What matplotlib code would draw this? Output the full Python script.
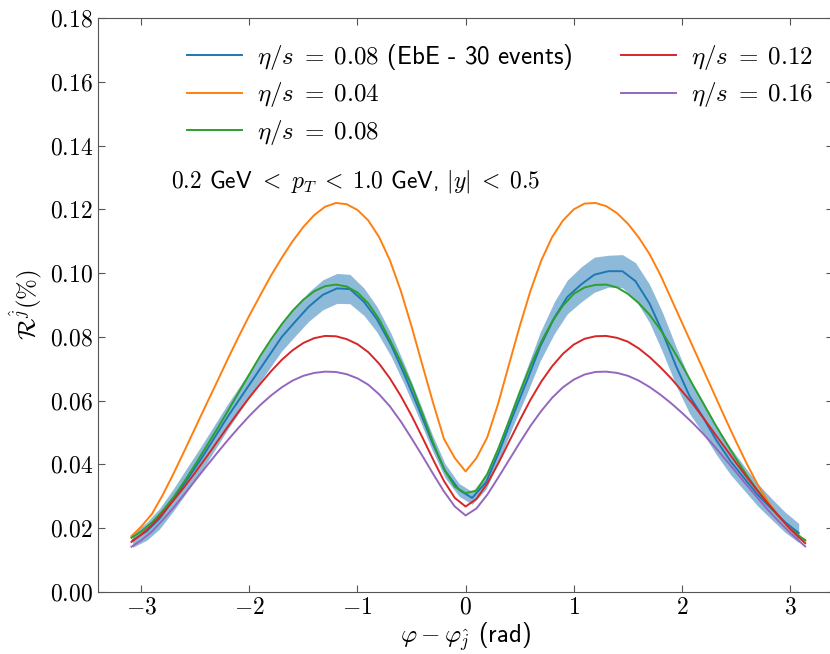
import numpy as np
import matplotlib
matplotlib.use("Agg")
from matplotlib import pyplot as plt

plt.rcParams['mathtext.fontset'] = 'cm'
plt.rcParams['font.family'] = ['cmss10', 'DejaVu Sans']

# azimuthal angle relative to the jet axis (rad)
phi = [-3.09] + list(np.round(np.arange(-3.0, 3.15, 0.1), 2)) + [3.14]

# smooth initial conditions, one curve per eta/s
r_004 = [0.0175, 0.0205, 0.0245, 0.0305, 0.0372, 0.0443, 0.0515, 0.0587,
         0.0658, 0.0730, 0.0800, 0.0867, 0.0930, 0.0992, 0.1048, 0.1100,
         0.1145, 0.1182, 0.1208, 0.1220, 0.1216, 0.1198, 0.1165, 0.1113,
         0.1040, 0.0945, 0.0833, 0.0712, 0.0592, 0.0480, 0.0420, 0.0378,
         0.0420, 0.0485, 0.0590, 0.0712, 0.0833, 0.0945, 0.1040, 0.1113,
         0.1165, 0.1200, 0.1218, 0.1220, 0.1210, 0.1188, 0.1155, 0.1112,
         0.1060, 0.0995, 0.0920, 0.0845, 0.0770, 0.0695, 0.0620, 0.0545,
         0.0472, 0.0402, 0.0337, 0.0281, 0.0235, 0.0198, 0.0170, 0.0160]
r_008 = [0.0170, 0.0190, 0.0218, 0.0255, 0.0298, 0.0347, 0.0400, 0.0455,
         0.0510, 0.0567, 0.0625, 0.0683, 0.0740, 0.0792, 0.0840, 0.0882,
         0.0917, 0.0943, 0.0959, 0.0964, 0.0958, 0.0939, 0.0905, 0.0855,
         0.0790, 0.0722, 0.0648, 0.0560, 0.0468, 0.0385, 0.0330, 0.0310,
         0.0318, 0.0370, 0.0448, 0.0535, 0.0625, 0.0710, 0.0785, 0.0848,
         0.0898, 0.0935, 0.0955, 0.0963, 0.0964, 0.0955, 0.0935, 0.0906,
         0.0870, 0.0823, 0.0770, 0.0712, 0.0650, 0.0590, 0.0530, 0.0473,
         0.0418, 0.0366, 0.0318, 0.0275, 0.0235, 0.0200, 0.0172, 0.0163]
r_012 = [0.0157, 0.0180, 0.0210, 0.0247, 0.0288, 0.0330, 0.0375, 0.0422,
         0.0470, 0.0518, 0.0565, 0.0610, 0.0652, 0.0692, 0.0728, 0.0758,
         0.0781, 0.0796, 0.0803, 0.0802, 0.0793, 0.0777, 0.0752, 0.0716,
         0.0670, 0.0615, 0.0553, 0.0485, 0.0415, 0.0348, 0.0295, 0.0268,
         0.0292, 0.0340, 0.0402, 0.0470, 0.0538, 0.0603, 0.0660, 0.0708,
         0.0747, 0.0776, 0.0794, 0.0802, 0.0803, 0.0797, 0.0785, 0.0764,
         0.0737, 0.0705, 0.0670, 0.0630, 0.0590, 0.0545, 0.0498, 0.0452,
         0.0405, 0.0360, 0.0317, 0.0275, 0.0237, 0.0198, 0.0165, 0.0153]
r_016 = [0.0142, 0.0162, 0.0190, 0.0226, 0.0265, 0.0307, 0.0350, 0.0393,
         0.0435, 0.0476, 0.0515, 0.0552, 0.0586, 0.0616, 0.0642, 0.0663,
         0.0678, 0.0687, 0.0691, 0.0690, 0.0683, 0.0670, 0.0650, 0.0620,
         0.0582, 0.0535, 0.0482, 0.0427, 0.0370, 0.0315, 0.0268, 0.0240,
         0.0262, 0.0305, 0.0358, 0.0413, 0.0468, 0.0521, 0.0568, 0.0609,
         0.0642, 0.0666, 0.0682, 0.0690, 0.0691, 0.0687, 0.0678, 0.0663,
         0.0643, 0.0619, 0.0592, 0.0562, 0.0530, 0.0495, 0.0457, 0.0417,
         0.0376, 0.0335, 0.0295, 0.0256, 0.0220, 0.0186, 0.0155, 0.0143]

# event-by-event average over 30 events, 50 angular bins, with its spread
phi_ebe = [-3.08, -2.95, -2.83, -2.70, -2.58, -2.45, -2.32, -2.20, -2.07,
           -1.95, -1.82, -1.70, -1.57, -1.45, -1.32, -1.19, -1.07, -0.94,
           -0.82, -0.69, -0.57, -0.44, -0.31, -0.19, -0.06, 0.06, 0.19, 0.31,
           0.44, 0.57, 0.69, 0.82, 0.94, 1.07, 1.19, 1.32, 1.45, 1.57, 1.70,
           1.82, 1.95, 2.07, 2.20, 2.32, 2.45, 2.58, 2.70, 2.83, 2.95, 3.08]
r_ebe = [0.0162, 0.0190, 0.0230, 0.0290, 0.0350, 0.0415, 0.0485, 0.0550,
         0.0615, 0.0675, 0.0740, 0.0800, 0.0850, 0.0895, 0.0932, 0.0952,
         0.0950, 0.0910, 0.0855, 0.0775, 0.0685, 0.0580, 0.0470, 0.0380,
         0.0320, 0.0295, 0.0345, 0.0440, 0.0555, 0.0665, 0.0770, 0.0860,
         0.0925, 0.0965, 0.0995, 0.1006, 0.1006, 0.0975, 0.0905, 0.0815,
         0.0705, 0.0615, 0.0545, 0.0475, 0.0410, 0.0355, 0.0305, 0.0260,
         0.0220, 0.0185]
err_ebe = [0.0022, 0.0028, 0.0032, 0.0035, 0.0038, 0.0040, 0.0040, 0.0040,
           0.0040, 0.0040, 0.0042, 0.0044, 0.0045, 0.0046, 0.0047, 0.0047,
           0.0046, 0.0043, 0.0040, 0.0036, 0.0032, 0.0028, 0.0025, 0.0022,
           0.0020, 0.0020, 0.0022, 0.0027, 0.0033, 0.0040, 0.0045, 0.0050,
           0.0053, 0.0055, 0.0055, 0.0050, 0.0052, 0.0058, 0.0060, 0.0062,
           0.0060, 0.0055, 0.0050, 0.0045, 0.0042, 0.0038, 0.0035, 0.0033,
           0.0032, 0.0030]

labels = [r'$\eta/s\;=\;0.08$ (EbE - 30 events)', r'$\eta/s\;=\;0.04$',
          r'$\eta/s\;=\;0.08$', r'$\eta/s\;=\;0.12$', r'$\eta/s\;=\;0.16$']

xticks = [-3, -2, -1, 0, 1, 2, 3]
yticks = [0.00, 0.02, 0.04, 0.06, 0.08, 0.10, 0.12, 0.14, 0.16, 0.18]

fig = plt.figure(figsize=(8.3, 6.54), dpi=100)
ax = fig.add_axes([0.118, 0.0948, 0.886, 0.8777])

lo = np.array(r_ebe) - np.array(err_ebe)
hi = np.array(r_ebe) + np.array(err_ebe)
ax.fill_between(phi_ebe, lo, hi, color='C0', alpha=0.5, lw=0)
ax.plot(phi_ebe, r_ebe, color='C0', lw=1.4, label=labels[0])
ax.plot(phi, r_004, color='C1', lw=1.4, label=labels[1])
ax.plot(phi, r_008, color='C2', lw=1.4, label=labels[2])
ax.plot(phi, r_012, color='C3', lw=1.4, label=labels[3])
ax.plot(phi, r_016, color='C4', lw=1.4, label=labels[4])

ax.set_xlim(-3.4, 3.4)
ax.set_ylim(0, 0.18)
ax.set_xticks(xticks)
ax.set_xticklabels(['$%d$' % t for t in xticks])
ax.set_yticks(yticks)
ax.set_yticklabels(['$%.2f$' % t for t in yticks])
ax.tick_params(direction='in', top=True, right=True, labelsize=17,
               length=5, color='#555555')
for s in ax.spines.values():
    s.set_color('#555555')

ax.set_xlabel(r'$\varphi - \varphi_{\hat{j}}$ (rad)', fontsize=18, labelpad=1)
ax.set_ylabel(r'$\mathcal{R}^{\hat{j}}(\%)$', fontsize=18, labelpad=4)

ax.legend(loc='upper left', bbox_to_anchor=(0.09, 0.998), ncol=2,
          frameon=False, fontsize=18, handlelength=2.2, handletextpad=0.6,
          columnspacing=1.95, labelspacing=0.35)
ax.text(0.10, 0.716,
        r'$0.2$ GeV $<\;p_T\;<\;1.0$ GeV, $|y|\;<\;0.5$',
        transform=ax.transAxes, fontsize=17, va='center')

fig.savefig('out.png', dpi=100)
